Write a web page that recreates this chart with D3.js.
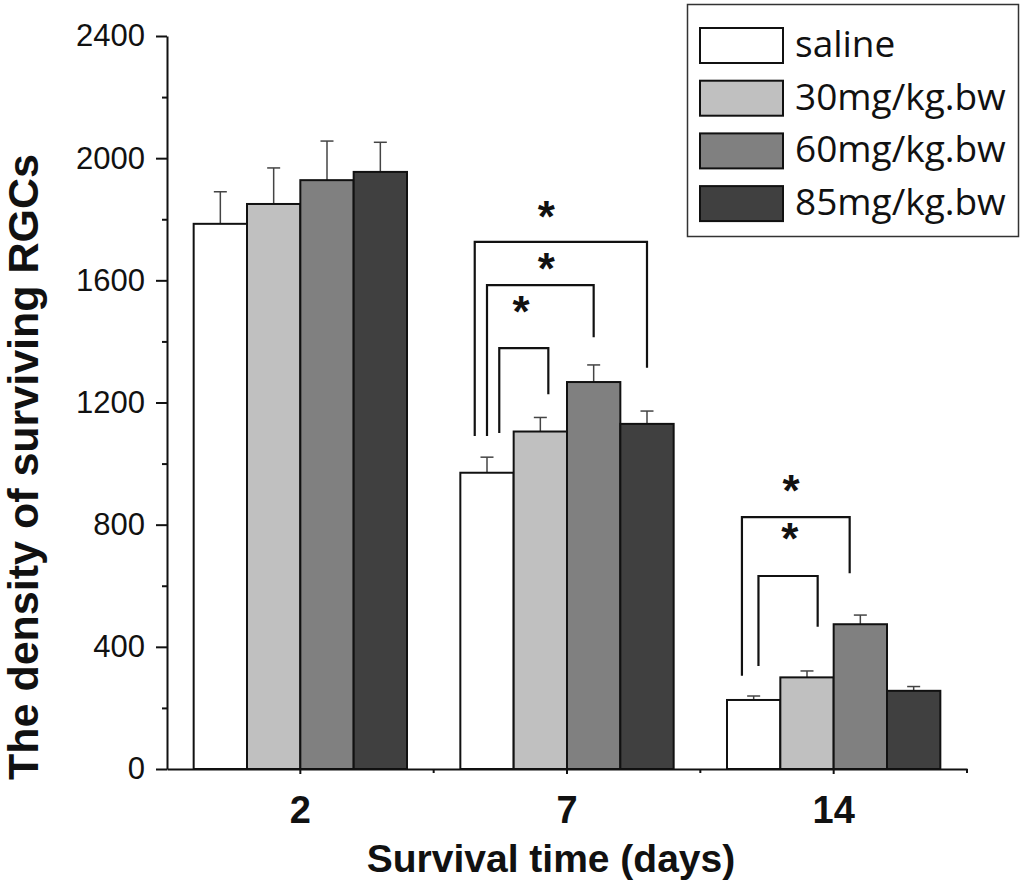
<!DOCTYPE html>
<html>
<head>
<meta charset="utf-8">
<script src="https://cdn.jsdelivr.net/npm/d3@7"></script>
<style>
  body { margin: 0; background: #fff; }
  svg { display: block; }
</style>
</head>
<body>
<div id="chart"></div>
<script>
// survival time groups (days) and treatment series
const days = ["2", "7", "14"];
const groups = ["saline", "30mg/kg.bw", "60mg/kg.bw", "85mg/kg.bw"];

// mean density per group, one array per series (order follows days)
const saline = [1785, 970, 226];
const mg30 = [1850, 1105, 300];
const mg60 = [1928, 1267, 474];
const mg85 = [1955, 1130, 256];

// standard errors (upper bar only)
const salineErr = [105, 51, 13];
const mg30Err = [118, 46, 21];
const mg60Err = [128, 56, 30];
const mg85Err = [97, 42, 14];

const yTicks = [0, 400, 800, 1200, 1600, 2000, 2400];

// significance brackets: day, left/right series, leg shift (in bar widths),
// bar top level, leg end levels, star anchor
const brackets = [
  { day: "7", from: 0, fromShift: -0.23, to: 3, toShift: 0, top: 1726, fromEnd: 1090, toEnd: 1314, starAt: 1.11, star: 1813 },
  { day: "7", from: 0, fromShift: 0, to: 2, toShift: 0, top: 1584, fromEnd: 1090, toEnd: 1414, starAt: 1.11, star: 1643 },
  { day: "7", from: 0, fromShift: 0.23, to: 1, toShift: 0.15, top: 1378, fromEnd: 1100, toEnd: 1227, starAt: 0.64, star: 1502 },
  { day: "14", from: 0, fromShift: -0.22, to: 2, toShift: -0.2, top: 825, fromEnd: 305, toEnd: 641, starAt: 0.7, star: 917 },
  { day: "14", from: 0, fromShift: 0.09, to: 1, toShift: 0.2, top: 632, fromEnd: 337, toEnd: 466, starAt: 0.68, star: 759 }
];

const colors = ["#ffffff", "#c0c0c0", "#808080", "#404040"];

const width = 1024;
const height = 892;

const seriesValues = [saline, mg30, mg60, mg85];
const seriesErrors = [salineErr, mg30Err, mg60Err, mg85Err];

const svg = d3.select("#chart").append("svg")
  .attr("width", width)
  .attr("height", height);

const x0 = d3.scaleBand()
  .domain(days)
  .range([167, 967])
  .paddingInner(0.2)
  .paddingOuter(0.1);

const x1 = d3.scaleBand()
  .domain(d3.range(groups.length))
  .range([0, x0.bandwidth()]);

const y = d3.scaleLinear()
  .domain([0, 2400])
  .range([769, 36]);

const color = d3.scaleOrdinal().domain(groups).range(colors);

// bars
const dayG = svg.append("g").attr("class", "bars")
  .selectAll("g")
  .data(days)
  .join("g")
  .attr("transform", d => `translate(${x0(d)},0)`);

const cells = dayG.selectAll("g")
  .data((d, di) => groups.map((g, si) => ({ day: d, group: g, si, v: seriesValues[si][di], e: seriesErrors[si][di] })))
  .join("g");

// error bars behind bars
cells.append("line")
  .attr("x1", d => x1(d.si) + x1.bandwidth() / 2)
  .attr("x2", d => x1(d.si) + x1.bandwidth() / 2)
  .attr("y1", d => y(d.v))
  .attr("y2", d => y(d.v + d.e))
  .attr("stroke", "#444")
  .attr("stroke-width", 1.5);

cells.append("line")
  .attr("x1", d => x1(d.si) + x1.bandwidth() / 2 - 6.5)
  .attr("x2", d => x1(d.si) + x1.bandwidth() / 2 + 6.5)
  .attr("y1", d => y(d.v + d.e))
  .attr("y2", d => y(d.v + d.e))
  .attr("stroke", "#444")
  .attr("stroke-width", 1.5);

cells.append("rect")
  .attr("x", d => x1(d.si))
  .attr("y", d => y(d.v))
  .attr("width", x1.bandwidth())
  .attr("height", d => y(0) - y(d.v))
  .attr("fill", d => color(d.group))
  .attr("stroke", "#111")
  .attr("stroke-width", 2);

// y axis
const yAxis = svg.append("g")
  .attr("transform", "translate(167,0)")
  .call(d3.axisLeft(y).tickValues(yTicks).tickFormat(d3.format("d"))
    .tickSize(11).tickPadding(11).tickSizeOuter(0));

yAxis.select(".domain").attr("stroke-width", 2).attr("stroke", "#111");
yAxis.selectAll(".tick line").attr("stroke-width", 2).attr("stroke", "#111");
yAxis.selectAll(".tick text")
  .attr("font-family", "Liberation Sans, Arial, sans-serif")
  .attr("font-size", 31)
  .attr("fill", "#111");

svg.append("g")
  .attr("transform", "translate(167,0)")
  .call(d3.axisLeft(y).tickValues(d3.range(200, 2400, 400)).tickSize(5).tickFormat(""))
  .call(g => g.select(".domain").remove())
  .selectAll(".tick line").attr("stroke-width", 2).attr("stroke", "#111");

// x axis
const xAxis = svg.append("g")
  .attr("transform", `translate(0,${y(0)})`)
  .call(d3.axisBottom(x0).tickSize(5).tickPadding(22).tickSizeOuter(0));

xAxis.select(".domain").attr("stroke-width", 2).attr("stroke", "#111");
xAxis.selectAll(".tick line").attr("stroke-width", 2).attr("stroke", "#111");
xAxis.selectAll(".tick text")
  .attr("font-family", "Liberation Sans, Arial, sans-serif")
  .attr("font-size", 38)
  .attr("font-weight", "bold")
  .attr("fill", "#111");

// minor x ticks between groups
const step = x0.step();
svg.append("g").selectAll("line")
  .data(days)
  .join("line")
  .attr("x1", d => x0(d) + x0.bandwidth() / 2 + step / 2)
  .attr("x2", d => x0(d) + x0.bandwidth() / 2 + step / 2)
  .attr("y1", y(0))
  .attr("y2", y(0) + 4)
  .attr("stroke", "#111")
  .attr("stroke-width", 2);

// axis titles
svg.append("text")
  .attr("x", 551)
  .attr("y", 872)
  .attr("text-anchor", "middle")
  .attr("font-family", "Liberation Sans, Arial, sans-serif")
  .attr("font-size", 39)
  .attr("font-weight", "bold")
  .attr("fill", "#111")
  .text("Survival time (days)");

svg.append("text")
  .attr("transform", "translate(38,467) rotate(-90)")
  .attr("text-anchor", "middle")
  .attr("font-family", "Liberation Sans, Arial, sans-serif")
  .attr("font-size", 43)
  .attr("font-weight", "bold")
  .attr("fill", "#111")
  .text("The density of surviving RGCs");

// significance brackets
const barCenter = (day, si, shift) => x0(day) + x1(si) + x1.bandwidth() * (0.5 + shift);

const br = svg.append("g").attr("class", "brackets");
br.selectAll("path")
  .data(brackets)
  .join("path")
  .attr("d", d => {
    const xa = barCenter(d.day, d.from, d.fromShift);
    const xb = barCenter(d.day, d.to, d.toShift);
    return `M${xa},${y(d.fromEnd)}V${y(d.top)}H${xb}V${y(d.toEnd)}`;
  })
  .attr("fill", "none")
  .attr("stroke", "#111")
  .attr("stroke-width", 2.2);

br.selectAll("text")
  .data(brackets)
  .join("text")
  .attr("x", d => x0(d.day) + x1.bandwidth() * (d.starAt + 0.5))
  .attr("y", d => y(d.star) + 17)
  .attr("text-anchor", "middle")
  .attr("font-family", "Liberation Sans, Arial, sans-serif")
  .attr("font-size", 44)
  .attr("font-weight", "bold")
  .attr("fill", "#111")
  .text("*");

// legend
const legend = svg.append("g").attr("class", "legend");
legend.append("rect")
  .attr("x", 687.5)
  .attr("y", 4.5)
  .attr("width", 331)
  .attr("height", 232)
  .attr("fill", "#fff")
  .attr("stroke", "#333")
  .attr("stroke-width", 1.5);

const item = legend.selectAll("g")
  .data(groups)
  .join("g")
  .attr("transform", (d, i) => `translate(700,${28 + i * 52.7})`);

item.append("rect")
  .attr("width", 83)
  .attr("height", 35)
  .attr("fill", d => color(d))
  .attr("stroke", "#111")
  .attr("stroke-width", 2);

item.append("text")
  .attr("x", 95)
  .attr("y", 29)
  .attr("font-family", "Open Sans, sans-serif")
  .attr("font-size", 37)
  .attr("fill", "#111")
  .text(d => d);
</script>
</body>
</html>
